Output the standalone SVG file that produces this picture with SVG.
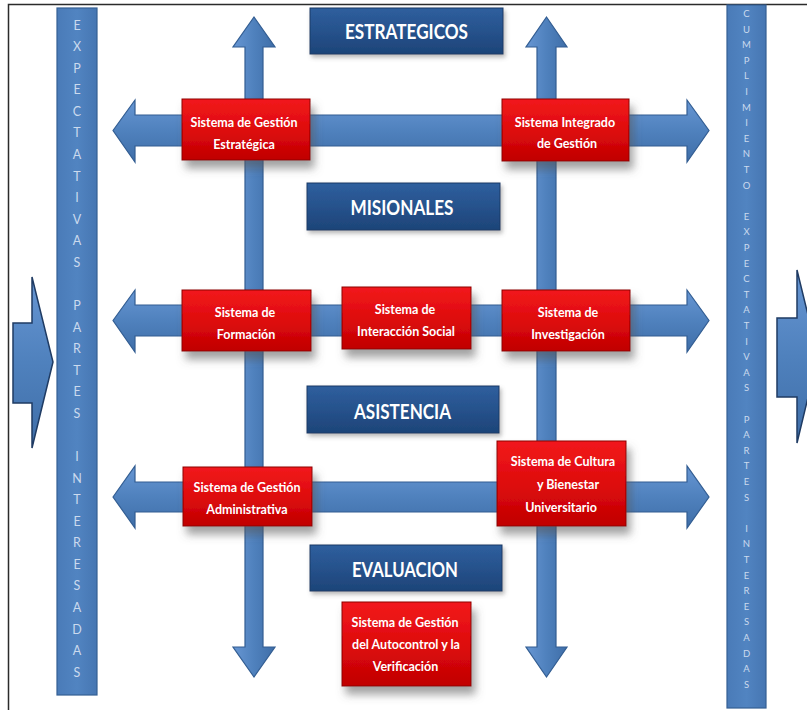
<svg xmlns="http://www.w3.org/2000/svg" width="807" height="710" viewBox="0 0 807 710">
  <defs>
    <linearGradient id="gArrowH" x1="0" y1="0" x2="0" y2="1">
      <stop offset="0" stop-color="#6796d3"/>
      <stop offset="0.5" stop-color="#4f81bd"/>
      <stop offset="1" stop-color="#3f6ea8"/>
    </linearGradient>
    <linearGradient id="gArrowV" x1="0" y1="0" x2="1" y2="0">
      <stop offset="0" stop-color="#6796d3"/>
      <stop offset="0.5" stop-color="#4f81bd"/>
      <stop offset="1" stop-color="#3f6ea8"/>
    </linearGradient>
    <linearGradient id="gBar" x1="0" y1="0" x2="1" y2="0">
      <stop offset="0" stop-color="#4a7bb8"/>
      <stop offset="0.5" stop-color="#5184c1"/>
      <stop offset="1" stop-color="#4676b2"/>
    </linearGradient>
    <linearGradient id="gRed" x1="0" y1="0" x2="0" y2="1">
      <stop offset="0" stop-color="#f2181c"/>
      <stop offset="0.55" stop-color="#dc0a0c"/>
      <stop offset="1" stop-color="#c00000"/>
    </linearGradient>
    <linearGradient id="gHead" x1="0" y1="0" x2="0" y2="1">
      <stop offset="0" stop-color="#2f5f9e"/>
      <stop offset="0.5" stop-color="#26528c"/>
      <stop offset="1" stop-color="#1d4478"/>
    </linearGradient>
    <filter id="fShadow" x="-20%" y="-20%" width="150%" height="170%">
      <feDropShadow dx="4" dy="8" stdDeviation="4" flood-color="#555" flood-opacity="0.55"/>
    </filter>
    <filter id="fSoft" x="-10%" y="-20%" width="130%" height="160%">
      <feDropShadow dx="2" dy="3" stdDeviation="2" flood-color="#666" flood-opacity="0.45"/>
    </filter>
  </defs>
  <style>
    .arrowH { fill: url(#gArrowH); stroke: #325d92; stroke-width: 1.2; stroke-linejoin: miter; }
    .arrowV { fill: url(#gArrowV); stroke: #325d92; stroke-width: 1.2; stroke-linejoin: miter; }
    .bigArrow { fill: url(#gArrowH); stroke: #1f3b63; stroke-width: 1.5; }
    .bar { fill: url(#gBar); stroke: #355f93; stroke-width: 1.2; }
    .barText { font-family: Lato, "Liberation Sans", sans-serif; fill: #cbdaee; text-anchor: middle; }
    .sys rect { fill: url(#gRed); stroke: #8e0000; stroke-width: 1; filter: url(#fShadow); }
    .sys text { font-family: Lato, "Liberation Sans", sans-serif; font-weight: 700; font-size: 12.5px; fill: #ffffff; text-anchor: middle; }
    .head rect { fill: url(#gHead); stroke: #183a66; stroke-width: 1; filter: url(#fSoft); }
    .head text { font-family: Lato, "Liberation Sans", sans-serif; font-weight: 700; font-size: 20px; fill: #ffffff; text-anchor: middle; }
  </style>

  <rect x="0" y="0" width="807" height="710" fill="#ffffff"/>
  <!-- outer frame -->
  <rect x="8.5" y="4.5" width="830" height="730" fill="none" stroke="#2b2b2b" stroke-width="1.5"/>

  <!-- side bars -->
  <g id="bar-expectativas">
    <rect class="bar" x="57" y="8" width="40" height="687"/>
    <text class="barText" font-size="12.5"
      x="77 77 77 77 77 77 77 77 77 77 77 77 77 77 77 77 77 77 77 77 77 77 77 77 77 77 77 77 77 77 77"
      y="29.5 51.1 72.6 94.2 115.8 137.4 158.9 180.5 202.1 223.6 245.2 266.8 288.3 309.9 331.5 353.1 374.6 396.2 417.8 439.3 460.9 482.5 504.0 525.6 547.2 568.8 590.3 611.9 633.5 655.0 676.6">EXPECTATIVAS PARTES INTERESADAS</text>
  </g>
  <g id="bar-cumplimiento">
    <rect class="bar" x="727" y="5" width="39" height="703"/>
    <text class="barText" font-size="9.5"
      x="746.5 746.5 746.5 746.5 746.5 746.5 746.5 746.5 746.5 746.5 746.5 746.5 746.5 746.5 746.5 746.5 746.5 746.5 746.5 746.5 746.5 746.5 746.5 746.5 746.5 746.5 746.5 746.5 746.5 746.5 746.5 746.5 746.5 746.5 746.5 746.5 746.5 746.5 746.5 746.5 746.5 746.5 746.5 746.5"
      y="17 32.6 48.2 63.8 79.4 95 110.6 126.2 141.8 157.4 173 188.6 204.2 219.8 235.4 251 266.6 282.2 297.8 313.4 329 344.6 360.2 375.8 391.4 407 422.6 438.2 453.8 469.4 485 500.6 516.2 531.8 547.4 563 578.6 594.2 609.8 625.4 641 656.6 672.2 687.8">CUMPLIMIENTO EXPECTATIVAS PARTES INTERESADAS</text>
  </g>

  <!-- entry / exit arrows -->
  <g id="arrow-in">
    <polygon class="bigArrow" points="13,323 32,323 32,277 53,362 32,448 32,403 13,403"/>
  </g>
  <g id="arrow-out">
    <polygon class="bigArrow" points="777,318 797,318 797,270 818,356 797,443 797,397 777,397"/>
  </g>

  <!-- process flow arrows -->
  <g id="connectors">
    <polygon class="arrowV" points="254,17 275,47 263,47 263,647 275,647 254,677 233,647 245,647 245,47 233,47"/>
    <polygon class="arrowV" points="546.5,17 567,47 556,47 556,647 567,647 546.5,677 526,647 537,647 537,47 526,47"/>
    <polygon class="arrowH" points="113,130.5 135,100 135,115 687,115 687,100 709,130.5 687,162 687,146 135,146 135,162"/>
    <polygon class="arrowH" points="113,320.5 135,290 135,305 687,305 687,290 709,320.5 687,352 687,336 135,336 135,352"/>
    <polygon class="arrowH" points="113,497 135,466 135,482 687,482 687,466 709,497 687,528 687,512 135,512 135,528"/>
  </g>

  <!-- process category headers -->
  <g id="hdr-estrategicos" class="head">
    <rect x="310" y="8" width="193" height="46"/>
    <text x="406.5" y="39" textLength="123" lengthAdjust="spacingAndGlyphs">ESTRATEGICOS</text>
  </g>
  <g id="hdr-misionales" class="head">
    <rect x="307" y="183" width="193" height="47"/>
    <text x="402" y="214.5" textLength="103" lengthAdjust="spacingAndGlyphs">MISIONALES</text>
  </g>
  <g id="hdr-asistencia" class="head">
    <rect x="307" y="386" width="192" height="47"/>
    <text x="402.5" y="419" textLength="97" lengthAdjust="spacingAndGlyphs">ASISTENCIA</text>
  </g>
  <g id="hdr-evaluacion" class="head">
    <rect x="310" y="545" width="192" height="46"/>
    <text x="405" y="577" textLength="106" lengthAdjust="spacingAndGlyphs">EVALUACION</text>
  </g>

  <!-- management systems -->
  <g id="sys-gestion-estrategica" class="sys">
    <rect x="182" y="99" width="128" height="61"/>
    <text x="244" y="127">Sistema de Gestión</text>
    <text x="244" y="149">Estratégica</text>
  </g>
  <g id="sys-integrado" class="sys">
    <rect x="502" y="99" width="127" height="62"/>
    <text x="565" y="127">Sistema Integrado</text>
    <text x="567" y="148">de Gestión</text>
  </g>
  <g id="sys-formacion" class="sys">
    <rect x="182" y="290" width="129" height="61"/>
    <text x="245" y="317">Sistema de</text>
    <text x="246" y="339">Formación</text>
  </g>
  <g id="sys-interaccion" class="sys">
    <rect x="342" y="287" width="129" height="62"/>
    <text x="405" y="314">Sistema de</text>
    <text x="406" y="336">Interacción Social</text>
  </g>
  <g id="sys-investigacion" class="sys">
    <rect x="502" y="290" width="128" height="61"/>
    <text x="568" y="317">Sistema de</text>
    <text x="568" y="339">Investigación</text>
  </g>
  <g id="sys-administrativa" class="sys">
    <rect x="183" y="467" width="129" height="59"/>
    <text x="247" y="492">Sistema de Gestión</text>
    <text x="247" y="514">Administrativa</text>
  </g>
  <g id="sys-cultura" class="sys">
    <rect x="497" y="441" width="129" height="85"/>
    <text x="563" y="466">Sistema de Cultura</text>
    <text x="568" y="489">y Bienestar</text>
    <text x="561" y="512">Universitario</text>
  </g>
  <g id="sys-autocontrol" class="sys">
    <rect x="342" y="602" width="129" height="84"/>
    <text x="405" y="627">Sistema de Gestión</text>
    <text x="406" y="649">del Autocontrol y la</text>
    <text x="405.5" y="671">Verificación</text>
  </g>
</svg>
